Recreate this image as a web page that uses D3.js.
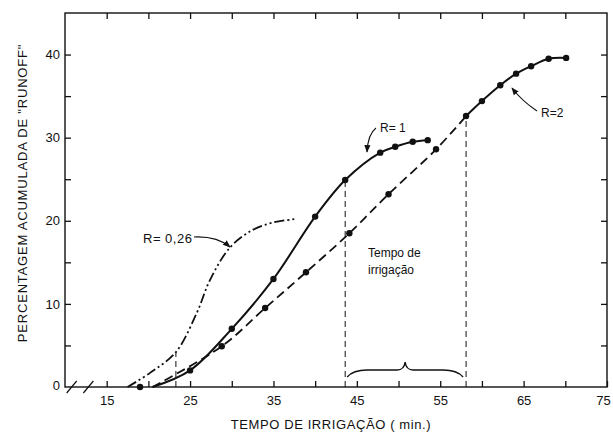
<!DOCTYPE html>
<html>
<head>
<meta charset="utf-8">
<script src="https://cdn.jsdelivr.net/npm/d3@7"></script>
<style>
  body { margin: 0; background: #fff; }
  svg { font-family: "Liberation Sans", Arial, sans-serif; }
  .axis text { font-size: 13px; fill: #111; }
  .axis line { stroke: #111; stroke-width: 1.3; }
</style>
</head>
<body>
<div id="chart"></div>
<script>

// curves: [minutes, % runoff]
const r026 = [[17.5, 0], [20.2, 1.7], [23.3, 4.2], [25.8, 8.9], [27.4, 12.9], [29.8, 16.8], [32.5, 18.9], [35, 19.8], [37.6, 20.2]];
const r1 = [[20.5, 0], [25, 2], [30, 7], [35, 13], [40, 20.5], [43.6, 24.9], [47.8, 28.2], [49.6, 28.9], [51.7, 29.5], [53.5, 29.7]];
const rDashed = [[20.5, 0], [28.8, 4.9], [34, 9.5], [38.9, 13.8], [44.1, 18.5], [48.8, 23.2], [54.5, 28.6], [58.1, 32.6]];
const r2 = [[58.1, 32.6], [60, 34.4], [62.2, 36.3], [64.1, 37.7], [65.9, 38.6], [68, 39.5], [70.1, 39.6]];
const startPoint = [[19, 0]];

// vertical guides: [x, top]
const guides = [[23.3, 4.2], [43.6, 24.9], [58.1, 32.6]];

const xTicks = d3.range(15, 76, 5);
const xLabels = [15, 25, 35, 45, 55, 65, 75];
const yTicks = d3.range(0, 46, 5);
const yLabels = [0, 10, 20, 30, 40];

const width = 613, height = 435;
const margin = { top: 13, right: 6, bottom: 48, left: 65 };

const svg = d3.select("#chart").append("svg")
  .attr("width", width)
  .attr("height", height);

const x = d3.scaleLinear()
  .domain([10, 75])
  .range([margin.left, width - margin.right]);

const y = d3.scaleLinear()
  .domain([0, 45])
  .range([height - margin.bottom, margin.top]);

// frame
svg.append("rect")
  .attr("x", x(10)).attr("y", y(45))
  .attr("width", x(75) - x(10)).attr("height", y(0) - y(45))
  .attr("fill", "none").attr("stroke", "#111").attr("stroke-width", 1.4);

// bottom axis, ticks pointing in
svg.append("g")
  .attr("class", "axis")
  .attr("transform", `translate(0,${y(0)})`)
  .call(d3.axisBottom(x).tickValues(xTicks).tickSize(-6).tickPadding(9)
    .tickFormat(d => xLabels.includes(d) ? d : ""))
  .call(g => g.select(".domain").remove())
  .call(g => g.selectAll(".tick text").filter(d => d === 75).attr("dx", "-4px"));

// top ticks
svg.append("g")
  .attr("class", "axis")
  .attr("transform", `translate(0,${y(45)})`)
  .call(d3.axisTop(x).tickValues(xTicks.filter(d => d < 75)).tickSize(-6).tickFormat(""))
  .call(g => g.select(".domain").remove());

// left axis
svg.append("g")
  .attr("class", "axis")
  .attr("transform", `translate(${x(10)},0)`)
  .call(d3.axisLeft(y).tickValues(yTicks.filter(d => d > 0 && d < 45)).tickSize(-6).tickPadding(5)
    .tickFormat(d => yLabels.includes(d) ? d : ""))
  .call(g => g.select(".domain").remove());

svg.append("text")
  .attr("x", x(10) - 5).attr("y", y(0))
  .attr("text-anchor", "end").attr("dominant-baseline", "middle")
  .style("font-size", "13px").attr("fill", "#111")
  .text("0");

// right ticks
svg.append("g")
  .attr("class", "axis")
  .attr("transform", `translate(${x(75)},0)`)
  .call(d3.axisRight(y).tickValues(yTicks.filter(d => d > 0 && d < 45)).tickSize(-6).tickFormat(""))
  .call(g => g.select(".domain").remove());

// axis break marks
for (let b of [10.8, 12.8]) {
  svg.append("line")
    .attr("x1", x(b) - 5).attr("y1", y(0) + 6)
    .attr("x2", x(b) + 5).attr("y2", y(0) - 6)
    .attr("stroke", "#111").attr("stroke-width", 1.2);
}

// axis titles
svg.append("text")
  .attr("x", 331).attr("y", 429)
  .attr("text-anchor", "middle")
  .style("font-size", "13px").style("letter-spacing", "0.6px")
  .attr("fill", "#111")
  .text("TEMPO DE IRRIGAÇÃO ( min.)");

svg.append("text")
  .attr("transform", "translate(27,193) rotate(-90)")
  .attr("text-anchor", "middle")
  .style("font-size", "13px").style("letter-spacing", "0.8px")
  .attr("fill", "#111")
  .text("PERCENTAGEM  ACUMULADA  DE  \"RUNOFF\"");

// guides
svg.selectAll(".guide")
  .data(guides)
  .join("line")
  .attr("class", "guide")
  .attr("x1", d => x(d[0])).attr("x2", d => x(d[0]))
  .attr("y1", y(0)).attr("y2", d => y(d[1]))
  .attr("stroke", "#111").attr("stroke-width", 1)
  .attr("stroke-dasharray", "6,4");

let line = d3.line()
  .x(d => x(d[0]))
  .y(d => y(d[1]))
  .curve(d3.curveCatmullRom);

svg.append("path").datum(r026)
  .attr("d", line).attr("fill", "none")
  .attr("stroke", "#111").attr("stroke-width", 1.8)
  .attr("stroke-dasharray", "10,3,2,3,2,3");

svg.append("path").datum(rDashed)
  .attr("d", line).attr("fill", "none")
  .attr("stroke", "#111").attr("stroke-width", 1.8)
  .attr("stroke-dasharray", "9,5");

svg.append("path").datum(r1)
  .attr("d", line).attr("fill", "none")
  .attr("stroke", "#111").attr("stroke-width", 2);

svg.append("path").datum(r2)
  .attr("d", line).attr("fill", "none")
  .attr("stroke", "#111").attr("stroke-width", 2);

// points
const pts = [].concat(r1.slice(1), rDashed.slice(1, -1), r2, startPoint);
svg.selectAll(".pt")
  .data(pts)
  .join("circle")
  .attr("class", "pt")
  .attr("cx", d => x(d[0])).attr("cy", d => y(d[1]))
  .attr("r", 3.2)
  .attr("fill", "#111");

// brace under "Tempo de irrigação"
const bx0 = x(43.6) + 2, bx1 = x(58.1) - 3, by = y(2.05), bm = (bx0 + bx1) / 2;
svg.append("path")
  .attr("d", `M${bx0},${by + 7} Q${bx0 + 6},${by} ${bx0 + 20},${by} L${bm - 8},${by} Q${bm - 1},${by} ${bm},${by - 8}
              Q${bm + 1},${by} ${bm + 8},${by} L${bx1 - 20},${by} Q${bx1 - 6},${by} ${bx1},${by + 7}`)
  .attr("fill", "none").attr("stroke", "#111").attr("stroke-width", 1.4);

svg.append("text")
  .attr("x", 368).attr("y", 257)
  .style("font-size", "12px").attr("fill", "#111")
  .text("Tempo de");
svg.append("text")
  .attr("x", 368).attr("y", 274)
  .style("font-size", "12px").attr("fill", "#111")
  .text("irrigação");

// curve labels with arrows
svg.append("defs").append("marker")
  .attr("id", "arr")
  .attr("viewBox", "0 0 10 10")
  .attr("refX", 9).attr("refY", 5)
  .attr("markerWidth", 7).attr("markerHeight", 7)
  .attr("orient", "auto")
  .append("path").attr("d", "M0,1 L10,5 L0,9 Z").attr("fill", "#111");

svg.append("text")
  .attr("x", 143).attr("y", 243)
  .style("font-size", "13px").style("letter-spacing", "0.5px").attr("fill", "#111")
  .text("R= 0,26");
svg.append("path")
  .attr("d", "M194,237 Q217,236 230,247")
  .attr("fill", "none").attr("stroke", "#111").attr("stroke-width", 1.1)
  .attr("marker-end", "url(#arr)");

svg.append("text")
  .attr("x", 380).attr("y", 132)
  .style("font-size", "12px").attr("fill", "#111")
  .text("R= 1");
svg.append("path")
  .attr("d", "M376,128 Q368,134 367,152")
  .attr("fill", "none").attr("stroke", "#111").attr("stroke-width", 1.1)
  .attr("marker-end", "url(#arr)");

svg.append("text")
  .attr("x", 541).attr("y", 117)
  .style("font-size", "12px").attr("fill", "#111")
  .text("R=2");
svg.append("path")
  .attr("d", "M537,111 Q522,101 512,88")
  .attr("fill", "none").attr("stroke", "#111").attr("stroke-width", 1.1)
  .attr("marker-end", "url(#arr)");

</script>
</body>
</html>
